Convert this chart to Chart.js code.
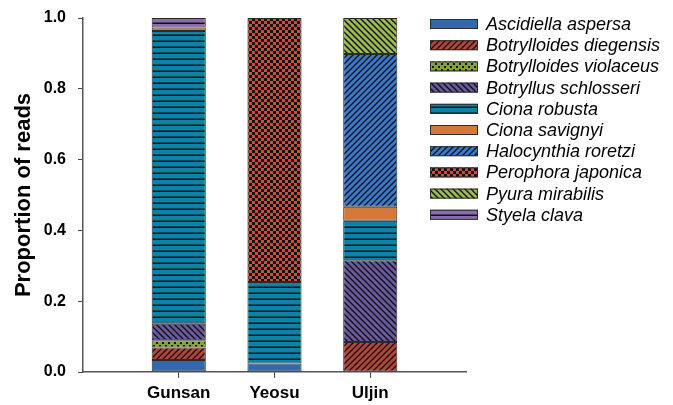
<!DOCTYPE html>
<html>
<head>
<meta charset="utf-8">
<script src="https://cdn.jsdelivr.net/npm/chart.js@4.4.1/dist/chart.umd.min.js"></script>
<style>
  html, body { margin: 0; padding: 0; background: #fff; }
  #wrap { width: 673px; height: 405px; }
</style>
</head>
<body>
<div id="wrap"><canvas id="chart" width="673" height="405"></canvas></div>
<script>
// sites
var sites = ['Gunsan', 'Yeosu', 'Uljin'];

var species = ['Ascidiella aspersa', 'Botrylloides diegensis', 'Botrylloides violaceus',
    'Botryllus schlosseri', 'Ciona robusta', 'Ciona savignyi', 'Halocynthia roretzi',
    'Perophora japonica', 'Pyura mirabilis', 'Styela clava'];

// proportion of reads per site (Gunsan, Yeosu, Uljin)
var ascidiella   = [0.034, 0.024, 0];
var bDiegensis   = [0.035, 0,     0.085];
var bViolaceus   = [0.021, 0,     0];
var bSchlosseri  = [0.046, 0,     0.231];
var cRobusta     = [0.827, 0.230, 0.111];
var cSavignyi    = [0.010, 0,     0.040];
var halocynthia  = [0,     0,     0.431];
var perophora    = [0,     0.746, 0];
var pyura        = [0,     0,     0.102];
var styela       = [0.027, 0,     0];

var yTicks = [0, 0.2, 0.4, 0.6, 0.8, 1.0];

var seriesValues = [ascidiella, bDiegensis, bViolaceus, bSchlosseri, cRobusta,
    cSavignyi, halocynthia, perophora, pyura, styela];

// fill look per species: base colour + hatch type
var fills = [
    ['#3567ad', 'solid'],
    ['#b54538', 'diagUp'],
    ['#86a436', 'dots'],
    ['#6b5aa0', 'diagDown'],
    ['#0b82a6', 'hlines'],
    ['#d4793a', 'solid'],
    ['#3a7bd0', 'diagUp'],
    ['#cf4b3c', 'checker'],
    ['#9cbd4e', 'diagDown'],
    ['#8a6db0', 'hlines']
];

function makePattern(base, kind) {
    if (kind == 'solid') return base;
    var c = document.createElement('canvas');
    var s = 6;
    c.width = s; c.height = s;
    var g = c.getContext('2d');
    g.fillStyle = base;
    g.fillRect(0, 0, s, s);
    g.fillStyle = '#111';
    g.strokeStyle = '#111';
    g.lineWidth = 1.4;
    if (kind == 'diagUp') {
        g.beginPath();
        g.moveTo(-1, s + 1); g.lineTo(s + 1, -1);
        g.moveTo(-1, 1); g.lineTo(1, -1);
        g.moveTo(s - 1, s + 1); g.lineTo(s + 1, s - 1);
        g.stroke();
    } else if (kind == 'diagDown') {
        g.beginPath();
        g.moveTo(-1, -1); g.lineTo(s + 1, s + 1);
        g.moveTo(s - 1, -1); g.lineTo(s + 1, 1);
        g.moveTo(-1, s - 1); g.lineTo(1, s + 1);
        g.stroke();
    } else if (kind == 'hlines') {
        g.fillRect(0, s - 1.5, s, 1.5);
    } else if (kind == 'dots') {
        g.fillRect(0, 0, 2, 2);
        g.fillRect(3, 3, 2, 2);
    } else if (kind == 'checker') {
        g.fillRect(0, 0, 3, 3);
        g.fillRect(3, 3, 3, 3);
    }
    return g.createPattern(c, 'repeat');
}

// x axis has an empty slot on each side, like the original
var labels = [''].concat(sites).concat(['']);

var datasets = species.map(function (name, n) {
    return {
        label: name,
        data: [null].concat(seriesValues[n]).concat([null]),
        backgroundColor: makePattern(fills[n][0], fills[n][1]),
        borderColor: '#2b2b2b',
        borderWidth: 1,
        borderSkipped: false,
        categoryPercentage: 1,
        barPercentage: 0.565
    };
});

// legend drawn over the right side, as in the figure
var sideLegend = {
    id: 'sideLegend',
    afterDraw: function (chart) {
        var ctx = chart.ctx;
        ctx.save();
        ctx.font = 'italic 18px "Liberation Sans", Arial, sans-serif';
        ctx.textBaseline = 'middle';
        chart.data.datasets.forEach(function (ds, n) {
            var y = 24 + n * 21.2;
            ctx.fillStyle = ds.backgroundColor;
            ctx.fillRect(430, y - 5, 48, 10);
            ctx.strokeStyle = '#2b2b2b';
            ctx.lineWidth = 1;
            ctx.strokeRect(430.5, y - 4.5, 47, 9);
            ctx.fillStyle = '#000';
            ctx.fillText(ds.label, 486, y + 1);
        });
        ctx.restore();
    }
};

var ctx = document.getElementById('chart').getContext('2d');
new Chart(ctx, {
    type: 'bar',
    data: { labels: labels, datasets: datasets },
    plugins: [sideLegend],
    options: {
        responsive: false,
        animation: false,
        layout: { padding: { left: 0, right: 207, top: 18, bottom: 0 } },
        plugins: { legend: { display: false }, tooltip: { enabled: false } },
        scales: {
            x: {
                stacked: true,
                offset: false,
                afterFit: function (axis) {
                    axis.height = 33;
                    axis.paddingLeft = 0; axis.paddingRight = 0;
                    axis.paddingTop = 0; axis.paddingBottom = 0;
                },
                border: { color: '#555', width: 1.5 },
                grid: {
                    offset: false,
                    drawOnChartArea: false,
                    tickLength: 6,
                    tickColor: function (c) {
                        return (c.index == 0 || c.index == labels.length - 1) ? 'rgba(0,0,0,0)' : '#444';
                    }
                },
                ticks: {
                    color: '#000',
                    padding: 5,
                    maxRotation: 0,
                    font: { family: '"Liberation Sans", Arial, sans-serif', size: 17, weight: 'bold' }
                }
            },
            y: {
                stacked: true,
                min: 0,
                max: 1,
                afterFit: function (axis) {
                    axis.width = 83;
                    axis.paddingTop = 0; axis.paddingBottom = 0;
                    axis.paddingLeft = 0; axis.paddingRight = 0;
                },
                afterBuildTicks: function (axis) {
                    axis.ticks = yTicks.map(function (v) { return { value: v }; });
                },
                border: { color: '#555', width: 1.5 },
                grid: { drawOnChartArea: false, tickLength: 5, tickColor: '#444' },
                ticks: {
                    color: '#000',
                    padding: 12,
                    callback: function (v) { return Number(v).toFixed(1); },
                    font: { family: '"Liberation Sans", Arial, sans-serif', size: 16, weight: 'bold' }
                },
                title: {
                    display: true,
                    text: 'Proportion of reads',
                    color: '#000',
                    padding: { top: 11, bottom: 4 },
                    font: { family: '"Liberation Sans", Arial, sans-serif', size: 22, weight: 'bold' }
                }
            }
        }
    }
});
</script>
</body>
</html>
